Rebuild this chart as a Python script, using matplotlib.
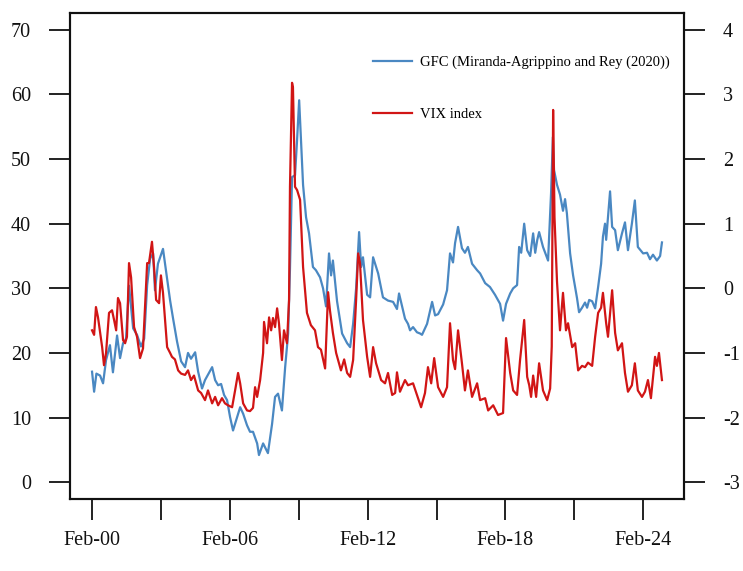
import matplotlib
matplotlib.use("Agg")
import matplotlib.pyplot as plt
from matplotlib.lines import Line2D

# ---------------- data ----------------
vix_year = [2000.08, 2000.17, 2000.25, 2000.34, 2000.52, 2000.60, 2000.69, 2000.82, 2000.95,
            2001.04, 2001.13, 2001.21, 2001.30, 2001.43, 2001.52, 2001.60, 2001.69, 2001.78, 2001.91,
            2002.04, 2002.17, 2002.30, 2002.48, 2002.56, 2002.69, 2002.78, 2002.87, 2003.00, 2003.08,
            2003.17, 2003.35, 2003.48, 2003.56, 2003.69, 2003.83, 2003.96, 2004.13, 2004.26, 2004.39,
            2004.52, 2004.70, 2004.83, 2005.00, 2005.13, 2005.31, 2005.44, 2005.57, 2005.74, 2005.87,
            2006.00, 2006.18, 2006.31, 2006.44, 2006.53, 2006.66, 2006.83, 2006.96, 2007.09, 2007.18,
            2007.27, 2007.40, 2007.53, 2007.57, 2007.70, 2007.79, 2007.88, 2007.96, 2008.05, 2008.14,
            2008.22, 2008.35, 2008.44, 2008.57, 2008.66, 2008.70, 2008.79, 2008.83, 2008.92, 2009.01,
            2009.14, 2009.27, 2009.44, 2009.61, 2009.79, 2009.92, 2010.05, 2010.23, 2010.36, 2010.44,
            2010.57, 2010.71, 2010.92, 2011.06, 2011.19, 2011.32, 2011.45, 2011.58, 2011.67, 2011.75,
            2011.88, 2012.06, 2012.19, 2012.32, 2012.45, 2012.67, 2012.84, 2012.97, 2013.15, 2013.28,
            2013.36, 2013.49, 2013.71, 2013.84, 2014.06, 2014.23, 2014.41, 2014.58, 2014.71, 2014.85,
            2014.98, 2015.15, 2015.37, 2015.54, 2015.67, 2015.80, 2015.89, 2016.02, 2016.19, 2016.32,
            2016.45, 2016.63, 2016.85, 2016.98, 2017.20, 2017.33, 2017.55, 2017.76, 2017.98, 2018.11,
            2018.29, 2018.42, 2018.59, 2018.72, 2018.90, 2019.03, 2019.12, 2019.20, 2019.29, 2019.42,
            2019.55, 2019.72, 2019.90, 2020.03, 2020.10, 2020.16, 2020.22, 2020.33, 2020.46, 2020.59,
            2020.72, 2020.81, 2020.99, 2021.12, 2021.25, 2021.42, 2021.55, 2021.68, 2021.86, 2021.99,
            2022.12, 2022.25, 2022.33, 2022.47, 2022.55, 2022.73, 2022.86, 2022.98, 2023.16, 2023.29,
            2023.42, 2023.59, 2023.72, 2023.85, 2024.03, 2024.16, 2024.29, 2024.42, 2024.60, 2024.68,
            2024.77, 2024.90]
vix_value = [23.5, 22.8, 27.1, 25.5, 20.9, 18.1, 20.0, 26.2, 26.6,
             25.1, 23.5, 28.5, 27.7, 22.0, 21.5, 22.5, 33.9, 31.7, 24.0,
             22.5, 19.2, 20.7, 33.9, 33.9, 37.2, 33.3, 28.2, 27.7, 32.0,
             29.3, 20.9, 20.0, 19.4, 19.0, 17.3, 16.8, 16.6, 17.3, 15.8,
             16.5, 14.2, 13.8, 12.7, 14.2, 12.2, 13.2, 11.9, 13.0, 12.2,
             11.9, 11.6, 14.2, 16.9, 15.3, 12.2, 11.1, 11.0, 11.5, 14.7,
             13.2, 15.8, 20.0, 24.8, 21.5, 25.5, 23.5, 25.4, 24.0, 26.9,
             24.6, 18.9, 23.5, 21.5, 28.2, 45.7, 61.8, 61.1, 45.7, 45.2,
             43.7, 33.3, 26.2, 24.3, 23.5, 20.9, 20.5, 17.6, 29.4, 26.6,
             23.1, 20.0, 17.3, 19.0, 16.9, 16.3, 18.9, 28.2, 35.4, 33.9,
             25.1, 19.4, 16.3, 20.9, 18.4, 15.8, 15.3, 16.9, 13.5, 13.8,
             17.0, 14.0, 15.8, 15.0, 15.3, 13.5, 11.6, 13.8, 17.8, 15.3,
             19.2, 14.7, 13.2, 14.7, 24.6, 18.9, 17.5, 23.5, 18.4, 14.2,
             17.3, 13.2, 15.3, 12.7, 13.0, 11.1, 11.9, 10.4, 10.7, 22.3,
             16.9, 14.2, 13.5, 18.9, 25.1, 16.3, 15.0, 13.2, 16.5, 13.2,
             18.4, 14.2, 12.7, 14.5, 21.0, 57.6, 41.0, 31.0, 23.5, 29.3,
             23.5, 24.6, 20.9, 21.5, 17.3, 18.0, 17.8, 18.5, 18.0, 22.5,
             26.2, 27.0, 29.3, 24.6, 22.5, 29.7, 23.1, 20.4, 21.5, 16.9,
             14.0, 15.0, 18.4, 14.2, 13.2, 14.0, 15.8, 13.0, 19.4, 18.0,
             20.0, 15.8]

gfc_year = [2000.08, 2000.17, 2000.27, 2000.43, 2000.56, 2000.69, 2000.86, 2000.99, 2001.17,
            2001.30, 2001.43, 2001.56, 2001.69, 2001.87, 2002.04, 2002.21, 2002.35, 2002.48, 2002.61,
            2002.74, 2002.82, 2002.95, 2003.17, 2003.35, 2003.48, 2003.61, 2003.78, 2003.96, 2004.13,
            2004.26, 2004.39, 2004.57, 2004.70, 2004.87, 2005.00, 2005.31, 2005.44, 2005.57, 2005.70,
            2005.83, 2005.96, 2006.09, 2006.22, 2006.39, 2006.53, 2006.66, 2006.83, 2006.96, 2007.09,
            2007.27, 2007.35, 2007.53, 2007.74, 2007.92, 2008.05, 2008.18, 2008.35, 2008.49, 2008.62,
            2008.70, 2008.79, 2008.92, 2009.01, 2009.10, 2009.18, 2009.27, 2009.40, 2009.53, 2009.70,
            2009.83, 2010.01, 2010.14, 2010.27, 2010.40, 2010.49, 2010.57, 2010.75, 2010.97, 2011.19,
            2011.32, 2011.45, 2011.58, 2011.71, 2011.80, 2011.88, 2012.06, 2012.19, 2012.32, 2012.54,
            2012.75, 2012.97, 2013.19, 2013.36, 2013.45, 2013.71, 2013.84, 2013.93, 2014.06, 2014.23,
            2014.37, 2014.45, 2014.67, 2014.89, 2015.02, 2015.15, 2015.37, 2015.54, 2015.67, 2015.80,
            2015.89, 2016.02, 2016.19, 2016.32, 2016.45, 2016.63, 2016.85, 2016.98, 2017.20, 2017.41,
            2017.63, 2017.85, 2017.98, 2018.11, 2018.29, 2018.42, 2018.59, 2018.68, 2018.77, 2018.90,
            2019.03, 2019.16, 2019.29, 2019.38, 2019.47, 2019.55, 2019.72, 2019.94, 2020.07, 2020.15,
            2020.20, 2020.33, 2020.46, 2020.59, 2020.68, 2020.76, 2020.90, 2021.03, 2021.20, 2021.29,
            2021.42, 2021.55, 2021.64, 2021.73, 2021.86, 2021.99, 2022.12, 2022.25, 2022.33, 2022.42,
            2022.47, 2022.64, 2022.73, 2022.86, 2022.98, 2023.16, 2023.29, 2023.42, 2023.59, 2023.72,
            2023.85, 2024.08, 2024.25, 2024.38, 2024.51, 2024.68, 2024.82, 2024.90]
gfc_value = [-1.29, -1.60, -1.32, -1.35, -1.47, -1.11, -0.88, -1.30, -0.73,
             -1.08, -0.85, -0.78, 0.04, -0.62, -0.72, -0.90, -0.78, 0.05, 0.46,
             0.54, -0.03, 0.38, 0.61, 0.15, -0.19, -0.47, -0.82, -1.13, -1.22,
             -1.00, -1.09, -0.99, -1.29, -1.55, -1.42, -1.22, -1.42, -1.50, -1.48,
             -1.65, -1.73, -1.99, -2.20, -2.00, -1.84, -1.94, -2.12, -2.22, -2.22,
             -2.40, -2.58, -2.40, -2.55, -2.10, -1.68, -1.63, -1.89, -1.22, -0.70,
             0.30, 1.72, 1.75, 2.30, 2.91, 2.30, 1.60, 1.10, 0.85, 0.33,
             0.28, 0.17, 0.00, -0.28, 0.54, 0.20, 0.43, -0.20, -0.70, -0.85,
             -0.91, -0.55, 0.00, 0.87, 0.33, 0.48, -0.10, -0.14, 0.48, 0.23,
             -0.14, -0.19, -0.21, -0.32, -0.08, -0.47, -0.55, -0.65, -0.60, -0.68,
             -0.70, -0.72, -0.55, -0.21, -0.42, -0.40, -0.25, -0.03, 0.54, 0.40,
             0.70, 0.95, 0.62, 0.55, 0.64, 0.38, 0.28, 0.23, 0.08, 0.02,
             -0.10, -0.24, -0.50, -0.24, -0.08, 0.00, 0.05, 0.64, 0.55, 1.00,
             0.59, 0.50, 0.85, 0.55, 0.75, 0.87, 0.64, 0.43, 1.47, 2.34,
             1.83, 1.60, 1.45, 1.20, 1.38, 1.16, 0.54, 0.20, -0.15, -0.37,
             -0.30, -0.22, -0.30, -0.18, -0.20, -0.31, 0.02, 0.38, 0.80, 1.00,
             0.75, 1.50, 0.95, 0.90, 0.59, 0.85, 1.02, 0.59, 1.00, 1.36,
             0.64, 0.54, 0.55, 0.45, 0.52, 0.43, 0.50, 0.71]

tick_years = [2000, 2003, 2006, 2009, 2012, 2015, 2018, 2021, 2024]
tick_labels = ["Feb-00", "", "Feb-06", "", "Feb-12", "", "Feb-18", "", "Feb-24"]
left_ticks = [0, 10, 20, 30, 40, 50, 60, 70]
right_ticks = [-3, -2, -1, 0, 1, 2, 3, 4]
gfc_label = "GFC (Miranda-Agrippino and Rey (2020))"
vix_label = "VIX index"

# ---------------- figure ----------------
plt.rcParams["font.family"] = ["Liberation Serif", "DejaVu Serif"]
W, H = 743, 571
fig = plt.figure(figsize=(W / 100, H / 100), dpi=100)
ax = fig.add_axes([70 / W, (H - 499) / H, (684 - 70) / W, (499 - 13) / H])
ax2 = ax.twinx()

blue = "#4a88c2"
red = "#d11515"
lw = 1.6

ax2.plot(gfc_year, gfc_value, color=blue, lw=lw, solid_joinstyle="round")
ax.plot(vix_year, vix_value, color=red, lw=lw, solid_joinstyle="round")
ax.set_zorder(ax2.get_zorder() + 1)
ax.patch.set_visible(False)

ax.set_xlim(1999.12, 2025.86)
ax.set_ylim(-2.6, 72.6)
ax2.set_ylim(-3.26, 4.26)

ax.set_xticks([y + 1 / 12 for y in tick_years])
ax.set_xticklabels(tick_labels)
ax.set_yticks(left_ticks)
ax.set_yticklabels([str(v) for v in left_ticks])
ax2.set_yticks(right_ticks)
ax2.set_yticklabels([str(v) for v in right_ticks])

for a in (ax, ax2):
    for s in a.spines.values():
        s.set_linewidth(1.5)
        s.set_color("#111111")
ax.tick_params(axis="x", direction="out", length=15, width=1.3, pad=8, labelsize=14.5, colors="#111111")
ax.tick_params(axis="y", direction="out", length=15, width=1.3, pad=13, labelsize=14.5, colors="#111111")
ax2.tick_params(axis="y", direction="out", length=15, width=1.3, pad=13, labelsize=14.5, colors="#111111")

handles = [Line2D([], [], color=blue, lw=lw), Line2D([], [], color=red, lw=lw)]
ax.legend(handles, [gfc_label, vix_label], loc="upper left",
          bbox_to_anchor=(373 / W, 1 - 56 / H), bbox_transform=fig.transFigure,
          frameon=False, borderpad=0, borderaxespad=0, handlelength=2.7,
          handletextpad=0.55, labelspacing=2.6, fontsize=10.5)

fig.savefig("out.png", dpi=100)
